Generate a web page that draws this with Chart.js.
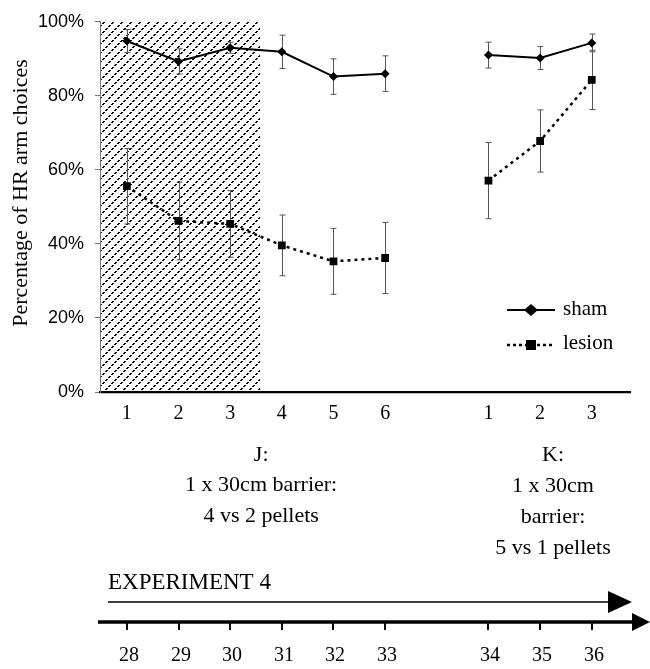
<!DOCTYPE html>
<html>
<head>
<meta charset="utf-8">
<script src="https://cdn.jsdelivr.net/npm/chart.js@4.4.0/dist/chart.umd.min.js"></script>
<style>
html, body { margin: 0; padding: 0; background: #fff; }
canvas { display: block; }
</style>
</head>
<body>
<canvas id="hrChart" width="650" height="669"></canvas>
<script>
// day positions on the x axis (7 is the gap between J and K)
const dayPos = [1, 2, 3, 4, 5, 6, 8, 9, 10];
const dayLabels = ["1", "2", "3", "4", "5", "6", "1", "2", "3"];
const sessions = ["28", "29", "30", "31", "32", "33", "34", "35", "36"];
const yTicks = [0, 20, 40, 60, 80, 100];

const shamJ = [94.8, 89.3, 93.0, 91.9, 85.2, 86.0];
const shamK = [91.0, 90.2, 94.3];
const shamErrJ = [3.1, 3.4, 1.5, 4.5, 4.8, 4.8];
const shamErrK = [3.5, 3.1, 2.4];
const lesionJ = [55.6, 46.2, 45.4, 39.6, 35.3, 36.2];
const lesionK = [57.1, 67.8, 84.3];
const lesionErrJ = [10.2, 10.5, 9.0, 8.2, 8.9, 9.6];
const lesionErrK = [10.3, 8.4, 8.0];
const hatchEnd = 3.58; // shaded block covers days 1-3 of J

const serif = "'Liberation Serif', 'Times New Roman', serif";

// J points, a null at the gap, then K points
function toPoints(j, k) {
    const vals = j.concat(k);
    const pts = vals.map((v, i) => ({ x: dayPos[i], y: v }));
    pts.splice(j.length, 0, { x: 7, y: null });
    return pts;
}
const shamErr = shamErrJ.concat(shamErrK);
const lesionErr = lesionErrJ.concat(lesionErrK);

// hatch tile: broken diagonal line, wraps across tiles
const tile = document.createElement("canvas");
tile.width = 9;
tile.height = 9;
const t = tile.getContext("2d");
t.fillStyle = "#000";
for (let i = 0; i < 9; i++) {
    if (i % 3 === 2) continue; // small gap in the line
    t.fillRect(i, 8 - i, 1, 1);
    t.fillRect((i + 1) % 9, 8 - i, 1, 1);
}

const hatchAndErrors = {
    id: "hatchAndErrors",
    beforeDatasetsDraw(chart) {
        const ctx = chart.ctx;
        const xs = chart.scales.x, ys = chart.scales.y;
        const area = chart.chartArea;
        ctx.save();
        ctx.fillStyle = ctx.createPattern(tile, "repeat");
        const left = Math.round(area.left) + 1;
        const right = Math.round(xs.getPixelForValue(hatchEnd));
        const top = Math.round(ys.getPixelForValue(100));
        const bottom = Math.round(ys.getPixelForValue(0));
        ctx.fillRect(left, top, right - left, bottom - top - 1);
        // error bars
        ctx.strokeStyle = "#555";
        ctx.lineWidth = 1;
        const groups = [[shamJ.concat(shamK), shamErr], [lesionJ.concat(lesionK), lesionErr]];
        groups.forEach(([vals, errs]) => {
            vals.forEach((v, i) => {
                const x = Math.round(xs.getPixelForValue(dayPos[i])) + 0.5;
                const top = ys.getPixelForValue(v + errs[i]);
                const bot = ys.getPixelForValue(v - errs[i]);
                ctx.beginPath();
                ctx.moveTo(x, top);
                ctx.lineTo(x, bot);
                ctx.moveTo(x - 3, top);
                ctx.lineTo(x + 3, top);
                ctx.moveTo(x - 3, bot);
                ctx.lineTo(x + 3, bot);
                ctx.stroke();
            });
        });
        ctx.restore();
    }
};

const extras = {
    id: "extras",
    afterDraw(chart) {
        const ctx = chart.ctx;
        const xs = chart.scales.x;
        ctx.save();
        ctx.fillStyle = "#000";
        ctx.strokeStyle = "#000";

        // y axis title
        ctx.save();
        ctx.translate(21, 193);
        ctx.rotate(-Math.PI / 2);
        ctx.font = "22px " + serif;
        ctx.textAlign = "center";
        ctx.textBaseline = "middle";
        ctx.fillText("Percentage of HR arm choices", 0, 0);
        ctx.restore();

        // legend
        ctx.lineWidth = 2;
        ctx.beginPath();
        ctx.moveTo(507, 310);
        ctx.lineTo(555, 310);
        ctx.stroke();
        ctx.beginPath();
        ctx.moveTo(531, 304);
        ctx.lineTo(538, 310);
        ctx.lineTo(531, 316);
        ctx.lineTo(524, 310);
        ctx.closePath();
        ctx.fill();
        ctx.lineWidth = 2.5;
        ctx.setLineDash([3, 3]);
        ctx.beginPath();
        ctx.moveTo(507, 345);
        ctx.lineTo(555, 345);
        ctx.stroke();
        ctx.setLineDash([]);
        ctx.fillRect(526, 340, 10, 10);
        ctx.font = "21px " + serif;
        ctx.textAlign = "left";
        ctx.textBaseline = "middle";
        ctx.fillText("sham", 563, 309);
        ctx.fillText("lesion", 563, 343);

        // phase descriptions
        ctx.font = "22px " + serif;
        ctx.textAlign = "center";
        const jx = xs.getPixelForValue(3.6), kx = xs.getPixelForValue(9.25);
        ["J:", "1 x 30cm barrier:", "4 vs 2 pellets"].forEach((s, i) => ctx.fillText(s, jx, 455 + i * 30.5));
        ["K:", "1 x 30cm", "barrier:", "5 vs 1 pellets"].forEach((s, i) => ctx.fillText(s, kx, 455 + i * 31));

        // experiment arrow
        ctx.font = "23px " + serif;
        ctx.textAlign = "left";
        ctx.textBaseline = "alphabetic";
        ctx.fillText("EXPERIMENT 4", 108, 589);
        ctx.lineWidth = 1.6;
        ctx.beginPath();
        ctx.moveTo(108, 602);
        ctx.lineTo(612, 602);
        ctx.stroke();
        ctx.beginPath();
        ctx.moveTo(608, 591);
        ctx.lineTo(632, 602);
        ctx.lineTo(608, 613);
        ctx.closePath();
        ctx.fill();

        // session timeline
        ctx.lineWidth = 3.5;
        ctx.beginPath();
        ctx.moveTo(98, 622);
        ctx.lineTo(636, 622);
        ctx.stroke();
        ctx.beginPath();
        ctx.moveTo(632, 613);
        ctx.lineTo(650, 622);
        ctx.lineTo(632, 631);
        ctx.closePath();
        ctx.fill();
        ctx.lineWidth = 2;
        ctx.font = "20px " + serif;
        ctx.textAlign = "center";
        ctx.textBaseline = "middle";
        sessions.forEach((s, i) => {
            const x = Math.round(xs.getPixelForValue(dayPos[i]));
            ctx.beginPath();
            ctx.moveTo(x, 622);
            ctx.lineTo(x, 630);
            ctx.stroke();
            ctx.fillText(s, x + 2, 656);
        });
        ctx.restore();
    }
};

new Chart(document.getElementById("hrChart"), {
    type: "line",
    data: {
        datasets: [
            {
                label: "sham",
                data: toPoints(shamJ, shamK),
                borderColor: "#000",
                borderWidth: 2,
                pointStyle: "rectRot",
                pointRadius: 4.5,
                pointBackgroundColor: "#000",
                pointBorderColor: "#000",
                pointBorderWidth: 0,
                tension: 0,
                spanGaps: false
            },
            {
                label: "lesion",
                data: toPoints(lesionJ, lesionK),
                borderColor: "#000",
                borderWidth: 2.5,
                borderDash: [3, 4],
                pointStyle: "rect",
                pointRadius: 5.5,
                pointBackgroundColor: "#000",
                pointBorderColor: "#000",
                pointBorderWidth: 0,
                tension: 0,
                spanGaps: false
            }
        ]
    },
    plugins: [hatchAndErrors, extras],
    options: {
        responsive: false,
        animation: false,
        layout: { padding: { top: 16, right: 20, left: 0, bottom: 0 } },
        plugins: {
            legend: { display: false },
            tooltip: { enabled: false }
        },
        scales: {
            x: {
                type: "linear",
                min: 0.48,
                max: 10.74,
                afterBuildTicks: (scale) => { scale.ticks = dayPos.map(v => ({ value: v })); },
                afterFit: (scale) => { scale.height = 277; },
                ticks: {
                    callback: (value) => dayLabels[dayPos.indexOf(value)],
                    font: { family: serif, size: 20 },
                    color: "#000",
                    padding: 10,
                    autoSkip: false,
                    maxRotation: 0
                },
                grid: { drawOnChartArea: false, drawTicks: false },
                border: { color: "#000", width: 2.2 }
            },
            y: {
                min: 0,
                max: 100,
                afterBuildTicks: (scale) => { scale.ticks = yTicks.map(v => ({ value: v })); },
                afterFit: (scale) => { scale.width = 100; },
                ticks: {
                    callback: (value) => value + "%",
                    font: { family: "'Liberation Sans', Arial, sans-serif", size: 18 },
                    color: "#000",
                    padding: 11
                },
                grid: { drawOnChartArea: false, tickLength: 5, color: "#777" },
                border: { color: "#777", width: 1 }
            }
        }
    }
});
</script>
</body>
</html>
